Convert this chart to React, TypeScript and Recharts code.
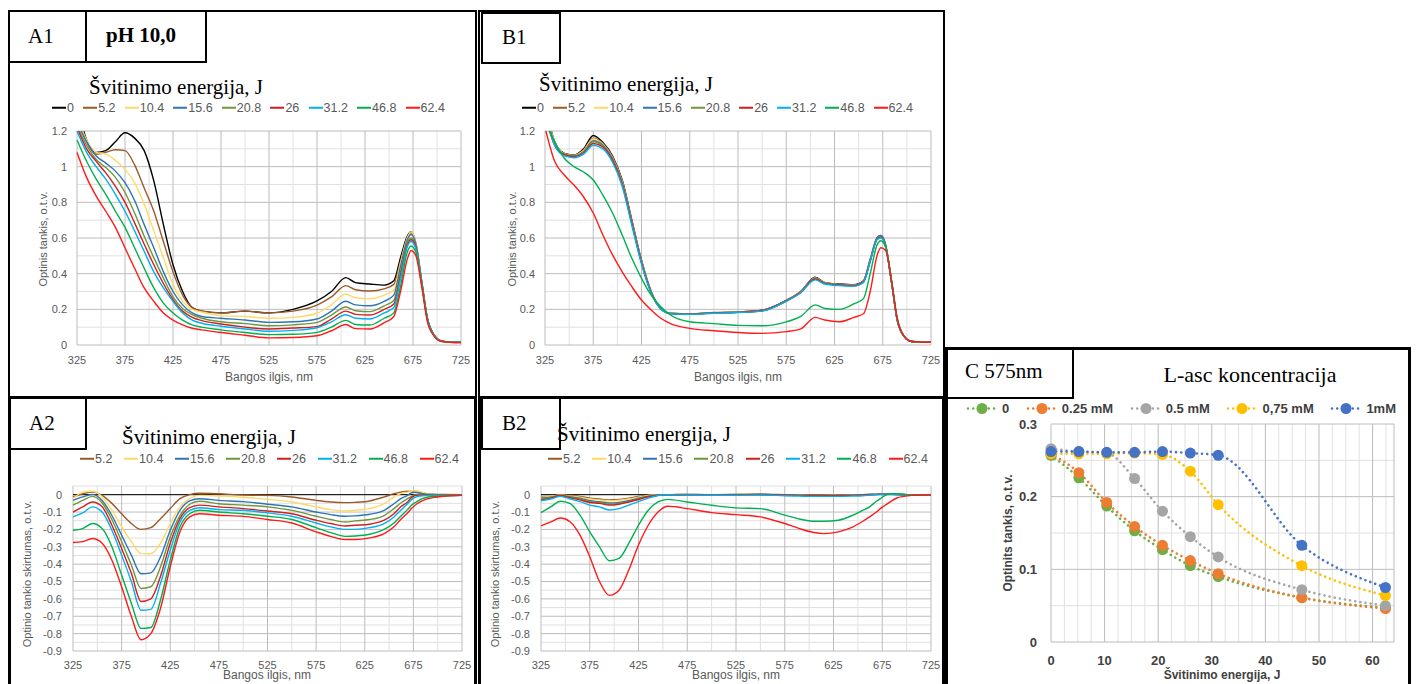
import React from 'react';
import { LineChart, Line, XAxis, YAxis, CartesianGrid, ReferenceLine } from 'recharts';

// ---------- wavelength grid (nm) ----------
const WL = [325, 335, 345, 355, 365, 375, 385, 395, 405, 415, 425, 435, 445, 455, 475, 500, 525, 550, 575, 590, 605, 615, 630, 645, 655, 662, 669, 673, 678, 684, 690, 697, 705, 725];

const SPEC_NAMES = ['0', '5.2', '10.4', '15.6', '20.8', '26', '31.2', '46.8', '62.4'];
const SPEC_COLORS = ['#000000', '#9C5A2A', '#FFD966', '#2E75B6', '#70963C', '#D01F1F', '#00B0F0', '#00B050', '#FF1A1A'];

// ---------- A1 : optical density, pH 10 ----------
const A1_0 = [1.35, 1.15, 1.08, 1.09, 1.14, 1.19, 1.16, 1.09, 0.92, 0.675, 0.45, 0.30, 0.21, 0.19, 0.18, 0.19, 0.18, 0.20, 0.247, 0.30, 0.378, 0.35, 0.342, 0.336, 0.36, 0.49, 0.61, 0.635, 0.57, 0.36, 0.15, 0.055, 0.022, 0.015];
const A1_5 = [1.30, 1.14, 1.07, 1.08, 1.095, 1.09, 1.01, 0.88, 0.75, 0.58, 0.41, 0.28, 0.21, 0.19, 0.18, 0.19, 0.18, 0.19, 0.224, 0.27, 0.333, 0.31, 0.303, 0.315, 0.34, 0.47, 0.60, 0.63, 0.57, 0.36, 0.15, 0.055, 0.022, 0.015];
const A1_10 = [1.28, 1.15, 1.08, 1.07, 1.035, 0.985, 0.91, 0.79, 0.64, 0.49, 0.34, 0.245, 0.20, 0.185, 0.165, 0.16, 0.15, 0.155, 0.178, 0.225, 0.286, 0.265, 0.26, 0.28, 0.31, 0.46, 0.60, 0.635, 0.575, 0.36, 0.15, 0.055, 0.022, 0.015];
const A1_15 = [1.25, 1.14, 1.06, 1.02, 0.975, 0.91, 0.81, 0.675, 0.545, 0.41, 0.30, 0.225, 0.18, 0.16, 0.15, 0.14, 0.127, 0.13, 0.146, 0.19, 0.245, 0.225, 0.22, 0.245, 0.28, 0.44, 0.59, 0.62, 0.565, 0.355, 0.15, 0.055, 0.022, 0.015];
const A1_20 = [1.23, 1.12, 1.04, 0.995, 0.94, 0.855, 0.74, 0.61, 0.49, 0.375, 0.27, 0.205, 0.17, 0.15, 0.13, 0.12, 0.108, 0.113, 0.127, 0.168, 0.213, 0.192, 0.187, 0.22, 0.25, 0.41, 0.575, 0.60, 0.55, 0.35, 0.145, 0.055, 0.022, 0.015];
const A1_26 = [1.22, 1.10, 1.03, 0.965, 0.89, 0.80, 0.685, 0.565, 0.45, 0.345, 0.255, 0.19, 0.155, 0.137, 0.118, 0.10, 0.09, 0.095, 0.103, 0.145, 0.19, 0.172, 0.168, 0.20, 0.23, 0.39, 0.56, 0.59, 0.545, 0.35, 0.145, 0.055, 0.022, 0.015];
const A1_31 = [1.20, 1.08, 1.00, 0.93, 0.845, 0.75, 0.64, 0.525, 0.41, 0.32, 0.245, 0.18, 0.14, 0.122, 0.105, 0.09, 0.077, 0.082, 0.097, 0.13, 0.17, 0.15, 0.146, 0.18, 0.21, 0.37, 0.55, 0.58, 0.54, 0.35, 0.145, 0.055, 0.022, 0.015];
const A1_46 = [1.15, 1.03, 0.93, 0.845, 0.75, 0.66, 0.545, 0.43, 0.32, 0.235, 0.18, 0.14, 0.113, 0.10, 0.085, 0.07, 0.058, 0.06, 0.071, 0.10, 0.138, 0.115, 0.112, 0.15, 0.18, 0.33, 0.52, 0.555, 0.52, 0.34, 0.14, 0.05, 0.02, 0.015];
const A1_62 = [1.08, 0.94, 0.835, 0.75, 0.66, 0.545, 0.43, 0.32, 0.245, 0.18, 0.14, 0.113, 0.094, 0.085, 0.07, 0.055, 0.04, 0.042, 0.052, 0.08, 0.115, 0.092, 0.09, 0.125, 0.16, 0.30, 0.48, 0.53, 0.50, 0.33, 0.13, 0.05, 0.02, 0.012];

// ---------- B1 ----------
const B1_0 = [1.35, 1.14, 1.075, 1.065, 1.10, 1.175, 1.135, 1.06, 0.925, 0.70, 0.475, 0.30, 0.205, 0.178, 0.175, 0.18, 0.185, 0.195, 0.25, 0.30, 0.38, 0.35, 0.342, 0.338, 0.36, 0.48, 0.60, 0.615, 0.56, 0.36, 0.14, 0.05, 0.02, 0.015];
const B1_5 = [1.34, 1.14, 1.075, 1.065, 1.095, 1.16, 1.13, 1.055, 0.92, 0.695, 0.47, 0.30, 0.205, 0.178, 0.175, 0.182, 0.186, 0.195, 0.25, 0.30, 0.378, 0.35, 0.34, 0.336, 0.358, 0.478, 0.598, 0.612, 0.558, 0.36, 0.14, 0.05, 0.02, 0.015];
const B1_10 = [1.33, 1.14, 1.072, 1.062, 1.09, 1.155, 1.125, 1.05, 0.915, 0.69, 0.468, 0.298, 0.205, 0.178, 0.175, 0.18, 0.185, 0.193, 0.248, 0.298, 0.376, 0.348, 0.34, 0.335, 0.356, 0.476, 0.596, 0.61, 0.556, 0.358, 0.14, 0.05, 0.02, 0.015];
const B1_15 = [1.32, 1.13, 1.07, 1.06, 1.085, 1.145, 1.12, 1.045, 0.91, 0.688, 0.465, 0.297, 0.204, 0.177, 0.174, 0.18, 0.184, 0.193, 0.248, 0.297, 0.374, 0.347, 0.338, 0.334, 0.355, 0.475, 0.598, 0.615, 0.56, 0.36, 0.14, 0.05, 0.02, 0.015];
const B1_20 = [1.31, 1.13, 1.068, 1.058, 1.08, 1.14, 1.115, 1.04, 0.905, 0.685, 0.462, 0.295, 0.203, 0.177, 0.174, 0.18, 0.184, 0.192, 0.247, 0.296, 0.372, 0.346, 0.337, 0.333, 0.354, 0.472, 0.594, 0.608, 0.555, 0.357, 0.14, 0.05, 0.02, 0.015];
const B1_26 = [1.30, 1.12, 1.066, 1.056, 1.075, 1.13, 1.11, 1.035, 0.90, 0.68, 0.46, 0.294, 0.203, 0.176, 0.173, 0.18, 0.183, 0.192, 0.246, 0.295, 0.37, 0.345, 0.336, 0.332, 0.353, 0.47, 0.592, 0.605, 0.553, 0.356, 0.14, 0.05, 0.02, 0.015];
const B1_31 = [1.29, 1.12, 1.06, 1.05, 1.07, 1.12, 1.10, 1.025, 0.89, 0.67, 0.455, 0.29, 0.202, 0.175, 0.172, 0.178, 0.182, 0.19, 0.245, 0.293, 0.365, 0.342, 0.333, 0.33, 0.35, 0.47, 0.59, 0.60, 0.55, 0.355, 0.14, 0.05, 0.02, 0.015];
const B1_46 = [1.25, 1.14, 1.047, 1.00, 0.97, 0.925, 0.84, 0.74, 0.617, 0.486, 0.374, 0.28, 0.215, 0.168, 0.13, 0.12, 0.11, 0.108, 0.13, 0.16, 0.225, 0.205, 0.20, 0.23, 0.26, 0.40, 0.56, 0.585, 0.55, 0.37, 0.15, 0.05, 0.02, 0.015];
const B1_62 = [1.22, 1.03, 0.953, 0.897, 0.83, 0.74, 0.617, 0.505, 0.41, 0.327, 0.252, 0.196, 0.15, 0.12, 0.093, 0.08, 0.07, 0.065, 0.075, 0.09, 0.155, 0.14, 0.13, 0.155, 0.175, 0.30, 0.50, 0.545, 0.53, 0.36, 0.15, 0.05, 0.02, 0.015];

// ---------- A2 : difference spectra ----------
const A2_5 = [-0.013, 0.005, 0.015, -0.004, -0.05, -0.11, -0.166, -0.2, -0.19, -0.138, -0.08, -0.023, 0.0, 0.008, 0.005, -0.002, -0.004, -0.013, -0.033, -0.042, -0.046, -0.044, -0.036, -0.013, 0.006, 0.015, 0.02, 0.018, 0.012, 0.008, 0.004, 0.002, 0.001, 0.0];
const A2_10 = [-0.023, 0.015, 0.02, -0.013, -0.09, -0.185, -0.27, -0.338, -0.34, -0.28, -0.166, -0.07, -0.023, -0.004, -0.008, -0.015, -0.027, -0.042, -0.07, -0.086, -0.094, -0.09, -0.08, -0.052, -0.013, 0.006, 0.015, 0.02, 0.025, 0.015, 0.006, 0.003, 0.001, 0.0];
const A2_15 = [-0.033, -0.013, 0.002, -0.033, -0.12, -0.233, -0.348, -0.455, -0.45, -0.358, -0.205, -0.09, -0.036, -0.023, -0.033, -0.04, -0.055, -0.07, -0.1, -0.115, -0.124, -0.122, -0.113, -0.09, -0.052, -0.023, -0.004, 0.01, 0.015, 0.006, 0.002, 0.001, 0.0, 0.0];
const A2_20 = [-0.06, -0.033, -0.01, -0.048, -0.143, -0.27, -0.405, -0.54, -0.53, -0.415, -0.243, -0.12, -0.055, -0.038, -0.052, -0.06, -0.07, -0.09, -0.124, -0.143, -0.157, -0.151, -0.143, -0.12, -0.08, -0.048, -0.023, -0.01, 0.0, 0.002, 0.001, 0.0, -0.001, -0.002];
const A2_26 = [-0.1, -0.07, -0.042, -0.07, -0.176, -0.31, -0.453, -0.615, -0.6, -0.47, -0.28, -0.138, -0.075, -0.06, -0.07, -0.08, -0.094, -0.11, -0.147, -0.166, -0.18, -0.176, -0.17, -0.147, -0.11, -0.07, -0.042, -0.017, -0.004, -0.002, -0.002, -0.003, -0.003, -0.003];
const A2_31 = [-0.128, -0.105, -0.07, -0.1, -0.205, -0.348, -0.5, -0.665, -0.66, -0.51, -0.32, -0.157, -0.09, -0.075, -0.086, -0.09, -0.105, -0.124, -0.163, -0.185, -0.2, -0.2, -0.19, -0.166, -0.128, -0.09, -0.052, -0.029, -0.013, -0.006, -0.004, -0.004, -0.004, -0.004];
const A2_46 = [-0.205, -0.195, -0.166, -0.195, -0.3, -0.463, -0.625, -0.77, -0.765, -0.606, -0.377, -0.185, -0.11, -0.09, -0.1, -0.11, -0.124, -0.143, -0.19, -0.218, -0.24, -0.238, -0.228, -0.2, -0.163, -0.124, -0.086, -0.061, -0.042, -0.023, -0.013, -0.01, -0.008, -0.004];
const A2_62 = [-0.275, -0.27, -0.252, -0.28, -0.377, -0.53, -0.7, -0.835, -0.8, -0.654, -0.415, -0.214, -0.128, -0.11, -0.118, -0.125, -0.143, -0.163, -0.214, -0.24, -0.258, -0.258, -0.249, -0.224, -0.185, -0.143, -0.105, -0.08, -0.055, -0.036, -0.023, -0.015, -0.01, -0.004];

// ---------- B2 ----------
const B2_5 = [-0.01, -0.01, 0.0, -0.005, -0.01, -0.02, -0.025, -0.03, -0.028, -0.02, -0.01, -0.003, 0.0, 0.0, 0.002, 0.0, 0.002, 0.003, 0.0, -0.002, -0.003, -0.003, -0.002, -0.001, 0.0, 0.001, 0.002, 0.003, 0.003, 0.002, 0.002, 0.001, 0.0, 0.0];
const B2_10 = [-0.015, -0.01, -0.002, -0.008, -0.015, -0.025, -0.03, -0.035, -0.032, -0.025, -0.015, -0.005, 0.0, 0.0, 0.002, 0.0, 0.001, 0.002, 0.0, -0.002, -0.004, -0.004, -0.003, -0.002, 0.0, 0.002, 0.003, 0.004, 0.004, 0.003, 0.002, 0.001, 0.0, 0.0];
const B2_15 = [-0.02, -0.015, -0.005, -0.012, -0.02, -0.035, -0.04, -0.048, -0.045, -0.035, -0.02, -0.008, -0.002, 0.0, 0.001, 0.0, 0.0, 0.001, -0.002, -0.004, -0.006, -0.006, -0.005, -0.003, -0.001, 0.001, 0.002, 0.003, 0.003, 0.002, 0.002, 0.001, 0.0, 0.0];
const B2_20 = [-0.025, -0.015, -0.003, -0.015, -0.025, -0.04, -0.045, -0.055, -0.05, -0.04, -0.025, -0.01, -0.002, 0.0, 0.0, 0.0, 0.001, 0.002, -0.001, -0.003, -0.005, -0.005, -0.004, -0.003, -0.001, 0.001, 0.002, 0.003, 0.003, 0.002, 0.001, 0.001, 0.0, 0.0];
const B2_26 = [-0.03, -0.02, -0.005, -0.018, -0.03, -0.045, -0.05, -0.06, -0.055, -0.042, -0.028, -0.012, -0.003, 0.0, 0.0, -0.001, 0.0, 0.001, -0.002, -0.004, -0.006, -0.006, -0.005, -0.004, -0.002, 0.0, 0.002, 0.003, 0.003, 0.002, 0.001, 0.0, 0.0, 0.0];
const B2_31 = [-0.035, -0.025, -0.01, -0.025, -0.04, -0.06, -0.07, -0.088, -0.08, -0.06, -0.04, -0.02, -0.005, 0.0, -0.002, -0.003, -0.003, -0.002, -0.006, -0.008, -0.01, -0.01, -0.01, -0.008, -0.006, -0.003, 0.0, 0.002, 0.003, 0.002, 0.001, 0.0, 0.0, 0.0];
const B2_46 = [-0.103, -0.07, -0.038, -0.052, -0.118, -0.214, -0.3, -0.38, -0.367, -0.28, -0.176, -0.09, -0.042, -0.027, -0.042, -0.061, -0.076, -0.08, -0.118, -0.14, -0.153, -0.153, -0.147, -0.118, -0.09, -0.07, -0.038, -0.023, -0.004, 0.006, 0.006, 0.002, 0.0, 0.0];
const B2_62 = [-0.18, -0.157, -0.134, -0.157, -0.233, -0.357, -0.5, -0.58, -0.55, -0.434, -0.29, -0.176, -0.1, -0.067, -0.08, -0.103, -0.115, -0.128, -0.166, -0.195, -0.218, -0.224, -0.214, -0.185, -0.153, -0.128, -0.1, -0.08, -0.061, -0.038, -0.019, -0.01, -0.004, 0.0];

// ---------- C : 575 nm vs energy ----------
const C_ENERGY = [0, 5.2, 10.4, 15.6, 20.8, 26, 31.2, 46.8, 62.4];
const C_0 = [0.257, 0.226, 0.187, 0.153, 0.127, 0.105, 0.09, 0.061, 0.047];
const C_025 = [0.259, 0.233, 0.192, 0.159, 0.133, 0.112, 0.094, 0.061, 0.046];
const C_05 = [0.266, 0.262, 0.26, 0.225, 0.18, 0.145, 0.117, 0.072, 0.05];
const C_075 = [0.259, 0.259, 0.259, 0.26, 0.258, 0.235, 0.189, 0.105, 0.064];
const C_1 = [0.262, 0.262, 0.261, 0.261, 0.262, 0.26, 0.257, 0.133, 0.075];
const C_NAMES = ['0', '0.25 mM', '0.5 mM', '0,75 mM', '1mM'];
const C_COLORS = ['#70AD47', '#ED7D31', '#A5A5A5', '#FFC000', '#4472C4'];

// ---------- ticks / grid ----------
const WL_TICKS = [325, 375, 425, 475, 525, 575, 625, 675, 725];
const WL_MINOR = [350, 400, 450, 500, 550, 600, 650, 700];
const OD_TICKS = [0, 0.2, 0.4, 0.6, 0.8, 1, 1.2];
const OD_MINOR = [0.1, 0.3, 0.5, 0.7, 0.9, 1.1];
const DIFF_TICKS = [0, -0.1, -0.2, -0.3, -0.4, -0.5, -0.6, -0.7, -0.8, -0.9];
const DIFF_MINOR = [0.05, -0.05, -0.15, -0.25, -0.35, -0.45, -0.55, -0.65, -0.75, -0.85];
const C_XTICKS = [0, 10, 20, 30, 40, 50, 60];
const C_XMAJOR = [0, 10, 20, 30, 40, 50, 60, 64];
const C_XMINOR = [2.5, 5, 7.5, 12.5, 15, 17.5, 22.5, 25, 27.5, 32.5, 35, 37.5, 42.5, 45, 47.5, 52.5, 55, 57.5, 62.5];
const C_YTICKS = [0, 0.1, 0.2, 0.3];
const C_YMINOR = [0.05, 0.15, 0.25];

const SANS = '"Liberation Sans", Arial, sans-serif';
const SERIF = '"Liberation Serif", "Times New Roman", serif';

const YW = 40, MT = 6, MR = 22, XH = 34;

function buildRows(xs: number[], key: string, series: number[][]) {
  return xs.map((v, i) => {
    const r: any = { [key]: v };
    series.forEach((s, k) => { r['s' + k] = s[i]; });
    return r;
  });
}

type SpecProps = {
  x: number; y: number; w: number; h: number;
  series: number[][]; colors: string[];
  yDomain: [number, number]; yTicks: number[]; yMinor: number[];
  zero?: boolean; yTickMargin: number; xTickMargin: number;
};

function Spectrum(p: SpecProps) {
  const rows = buildRows(WL, 'w', p.series);
  const tick = { fontSize: 11, fill: '#595959', fontFamily: SANS };
  return (
    <div style={{ position: 'absolute', left: p.x - YW, top: p.y - MT }}>
      <LineChart width={p.w + YW + MR} height={p.h + MT + XH} data={rows}
        margin={{ top: MT, right: MR, left: 0, bottom: 0 }} style={{ overflow: 'visible' }}>
        <CartesianGrid horizontalValues={p.yMinor} verticalValues={WL_MINOR} stroke="#e0e0e0" strokeWidth={1} />
        <CartesianGrid horizontalValues={p.yTicks} verticalValues={WL_TICKS} stroke="#bcbcbc" strokeWidth={1} />
        <XAxis type="number" dataKey="w" domain={[325, 725]} ticks={WL_TICKS} axisLine={false} tickLine={false}
          tick={tick} height={XH} tickMargin={p.xTickMargin} interval={0} />
        <YAxis type="number" domain={p.yDomain} ticks={p.yTicks} width={YW} allowDataOverflow axisLine={false}
          tickLine={false} tick={tick} tickMargin={p.yTickMargin} interval={0} />
        {p.zero ? <ReferenceLine y={0} stroke="#000000" strokeWidth={1} /> : null}
        {p.series.map((_, k) => (
          <Line key={k} dataKey={'s' + k} type="monotone" stroke={p.colors[k]} strokeWidth={1.4}
            dot={false} isAnimationActive={false} />
        ))}
      </LineChart>
    </div>
  );
}

function CChart() {
  const rows = buildRows(C_ENERGY, 'e', [C_0, C_025, C_05, C_075, C_1]);
  const tick = { fontSize: 13, fill: '#404040', fontFamily: SANS, fontWeight: 700 };
  const x = 1051, y = 424, w = 343, h = 218;
  return (
    <div style={{ position: 'absolute', left: x - YW, top: y - MT }}>
      <LineChart width={w + YW + MR} height={h + MT + XH} data={rows}
        margin={{ top: MT, right: MR, left: 0, bottom: 0 }} style={{ overflow: 'visible' }}>
        <CartesianGrid horizontalValues={C_YMINOR} verticalValues={C_XMINOR} stroke="#e0e0e0" />
        <CartesianGrid horizontalValues={C_YTICKS} verticalValues={C_XMAJOR} stroke="#bcbcbc" />
        <XAxis type="number" dataKey="e" domain={[0, 64]} ticks={C_XTICKS} axisLine={false} tickLine={false}
          tick={tick} height={XH} tickMargin={8} interval={0} />
        <YAxis type="number" domain={[0, 0.3]} ticks={C_YTICKS} width={YW} axisLine={false} tickLine={false}
          tick={tick} tickMargin={8} interval={0} />
        {C_NAMES.map((_, k) => (
          <Line key={k} dataKey={'s' + k} type="monotone" stroke={C_COLORS[k]} strokeWidth={2.6}
            strokeDasharray="0.01 5.2" strokeLinecap="round"
            dot={{ r: 5.5, fill: C_COLORS[k], stroke: C_COLORS[k], strokeWidth: 0 }}
            isAnimationActive={false} />
        ))}
      </LineChart>
    </div>
  );
}

function Frame({ l, t, w, h, bw = 2 }: { l: number; t: number; w: number; h: number; bw?: number }) {
  return <div style={{ position: 'absolute', left: l, top: t, width: w, height: h, border: `${bw}px solid #000`, boxSizing: 'border-box' }} />;
}

function Txt({ x, y, size, children, bold, family, color, center }: any) {
  return (
    <div style={{
      position: 'absolute', left: x, top: y, transform: center ? 'translate(-50%,-50%)' : 'translateY(-50%)',
      fontSize: size, lineHeight: 1, fontFamily: family || SERIF, fontWeight: bold ? 700 : 400,
      color: color || '#000', whiteSpace: 'nowrap'
    }}>{children}</div>
  );
}

function VTxt({ x, y, size, children, bold, color }: any) {
  return (
    <div style={{
      position: 'absolute', left: x, top: y, transform: 'translate(-50%,-50%) rotate(-90deg)',
      fontSize: size, lineHeight: 1, fontFamily: SANS, fontWeight: bold ? 700 : 400,
      color: color || '#595959', whiteSpace: 'nowrap'
    }}>{children}</div>
  );
}

function SpecLegend({ left, right, y, names, colors }: { left: number; right: number; y: number; names: string[]; colors: string[] }) {
  return (
    <div style={{
      position: 'absolute', left, top: y, width: right - left, transform: 'translateY(-50%)',
      display: 'flex', justifyContent: 'space-between', alignItems: 'center',
      fontFamily: SANS, fontSize: 12.5, color: '#595959', lineHeight: 1
    }}>
      {names.map((n, i) => (
        <div key={n} style={{ display: 'flex', alignItems: 'center' }}>
          <span style={{ display: 'inline-block', width: 14, height: 2, background: colors[i], marginRight: 1 }} />
          <span>{n}</span>
        </div>
      ))}
    </div>
  );
}

function CLegend() {
  return (
    <div style={{
      position: 'absolute', left: 966, top: 408, width: 430, transform: 'translateY(-50%)',
      display: 'flex', justifyContent: 'space-between', alignItems: 'center',
      fontFamily: SANS, fontSize: 13, fontWeight: 700, color: '#404040', lineHeight: 1
    }}>
      {C_NAMES.map((n, i) => (
        <div key={n} style={{ display: 'flex', alignItems: 'center' }}>
          <svg width={32} height={12} style={{ marginRight: 4 }}>
            <line x1={2} y1={6} x2={30} y2={6} stroke={C_COLORS[i]} strokeWidth={2.6} strokeDasharray="0.01 5.2" strokeLinecap="round" />
            <circle cx={16} cy={6} r={5.5} fill={C_COLORS[i]} />
          </svg>
          <span>{n}</span>
        </div>
      ))}
    </div>
  );
}

const DIFF_NAMES = SPEC_NAMES.slice(1);
const DIFF_COLORS = SPEC_COLORS.slice(1);

export default function App() {
  return (
    <div style={{ position: 'fixed', left: 0, top: 0, width: 1416, height: 684, overflow: 'hidden', background: '#fff' }}>
      {/* panel frames */}
      <Frame l={8} t={10} w={469} h={388} />
      <Frame l={478} t={10} w={467} h={388} />
      <Frame l={8} t={396} w={469} h={300} bw={3} />
      <Frame l={478} t={396} w={467} h={300} bw={3} />
      <Frame l={945} t={347} w={466} h={350} bw={3} />

      {/* label boxes */}
      <Frame l={8} t={10} w={79} h={53} />
      <Frame l={85} t={10} w={122} h={53} />
      <Frame l={481} t={12} w={80} h={52} />
      <Frame l={8} t={397} w={79} h={53} />
      <Frame l={481} t={397} w={80} h={53} />
      <Frame l={945} t={347} w={129} h={52} />

      <Txt x={28} y={36} size={21}>A1</Txt>
      <Txt x={106} y={35} size={21} bold>pH 10,0</Txt>
      <Txt x={502} y={37} size={21}>B1</Txt>
      <Txt x={29} y={423} size={21}>A2</Txt>
      <Txt x={502} y={423} size={21}>B2</Txt>
      <Txt x={965} y={371} size={21}>C 575nm</Txt>

      {/* titles */}
      <Txt x={89} y={87} size={21}>Švitinimo energija, J</Txt>
      <Txt x={539} y={84} size={21}>Švitinimo energija, J</Txt>
      <Txt x={122} y={437} size={21}>Švitinimo energija, J</Txt>
      <Txt x={557} y={434} size={21}>Švitinimo energija, J</Txt>
      <Txt x={1250} y={375} size={22} center>L-asc koncentracija</Txt>

      {/* legends */}
      <SpecLegend left={52} right={445} y={108} names={SPEC_NAMES} colors={SPEC_COLORS} />
      <SpecLegend left={522} right={913} y={108} names={SPEC_NAMES} colors={SPEC_COLORS} />
      <SpecLegend left={80} right={459} y={459} names={DIFF_NAMES} colors={DIFF_COLORS} />
      <SpecLegend left={548} right={928} y={459} names={DIFF_NAMES} colors={DIFF_COLORS} />
      <CLegend />

      {/* charts */}
      <Spectrum x={77} y={131} w={384} h={214} colors={SPEC_COLORS}
        series={[A1_0, A1_5, A1_10, A1_15, A1_20, A1_26, A1_31, A1_46, A1_62]}
        yDomain={[0, 1.2]} yTicks={OD_TICKS} yMinor={OD_MINOR} yTickMargin={4} xTickMargin={5} />
      <Spectrum x={545} y={131} w={386} h={214} colors={SPEC_COLORS}
        series={[B1_0, B1_5, B1_10, B1_15, B1_20, B1_26, B1_31, B1_46, B1_62]}
        yDomain={[0, 1.2]} yTicks={OD_TICKS} yMinor={OD_MINOR} yTickMargin={4} xTickMargin={5} />
      <Spectrum x={73} y={486} w={389} h={165} colors={DIFF_COLORS} zero
        series={[A2_5, A2_10, A2_15, A2_20, A2_26, A2_31, A2_46, A2_62]}
        yDomain={[-0.9, 0.05]} yTicks={DIFF_TICKS} yMinor={DIFF_MINOR} yTickMargin={5} xTickMargin={4} />
      <Spectrum x={541} y={486} w={390} h={165} colors={DIFF_COLORS} zero
        series={[B2_5, B2_10, B2_15, B2_20, B2_26, B2_31, B2_46, B2_62]}
        yDomain={[-0.9, 0.05]} yTicks={DIFF_TICKS} yMinor={DIFF_MINOR} yTickMargin={5} xTickMargin={4} />
      <CChart />

      {/* axis titles */}
      <VTxt x={43} y={239} size={11}>Optinis tankis, o.t.v.</VTxt>
      <VTxt x={512} y={239} size={11}>Optinis tankis, o.t.v.</VTxt>
      <VTxt x={27} y={574} size={11}>Optinio tankio skirtumas,  o.t.v.</VTxt>
      <VTxt x={495} y={574} size={11}>Optinio tankio skirtumas,  o.t.v.</VTxt>
      <VTxt x={1008} y={533} size={12} bold color="#404040">Optinits tankis, o.t.v.</VTxt>

      <Txt x={269} y={377} size={12} family={SANS} color="#595959" center>Bangos ilgis, nm</Txt>
      <Txt x={738} y={377} size={12} family={SANS} color="#595959" center>Bangos ilgis, nm</Txt>
      <Txt x={267} y={675} size={12} family={SANS} color="#595959" center>Bangos ilgis, nm</Txt>
      <Txt x={736} y={675} size={12} family={SANS} color="#595959" center>Bangos ilgis, nm</Txt>
      <Txt x={1222} y={675} size={12} family={SANS} color="#404040" bold center>Švitinimo energija, J</Txt>
    </div>
  );
}
